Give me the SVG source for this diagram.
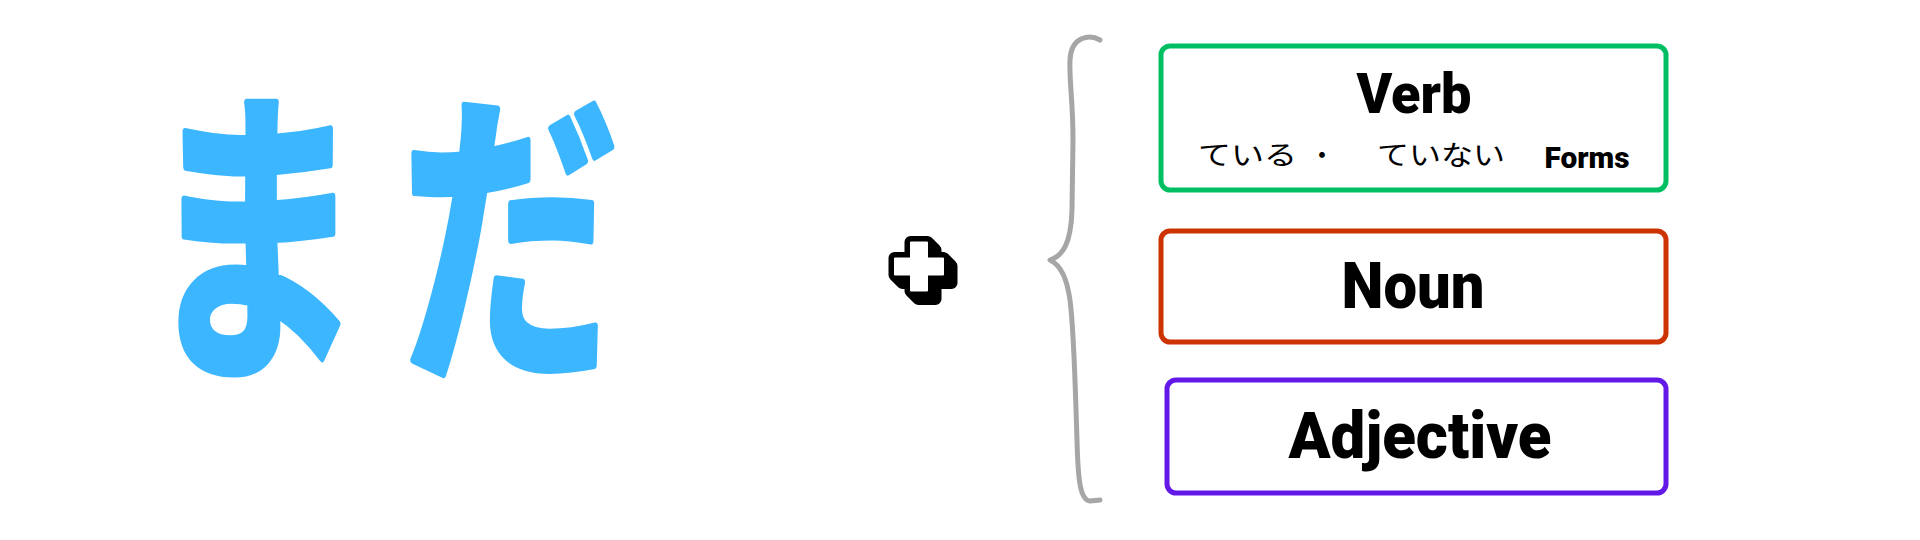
<svg xmlns="http://www.w3.org/2000/svg" width="1920" height="540" viewBox="0 0 1920 540">
<style>
.box{fill:#fff;stroke-width:5}
.lbl{font-family:Roboto,"Liberation Sans",sans-serif;font-weight:900;fill:#000;text-anchor:middle}
.jp{font-family:"Noto Sans CJK JP",sans-serif;font-weight:400;font-size:27px;fill:#000}
.big{font-family:"Noto Sans CJK JP",sans-serif;font-weight:700;font-size:220px;fill:#3BB6FF;stroke:#3BB6FF;stroke-width:5;stroke-linejoin:round}
</style>
<defs>
<path id="plus" d="M910.5,242 h17 v16 h16 v17 h-16 v16 h-17 v-16 h-16 v-17 h16 z"/>
</defs>
<rect width="1920" height="540" fill="#fff"/>
<g id="mada">
<text class="big" transform="translate(145,355) scale(1,1.42)" x="0" y="0">ま</text>
<text class="big" transform="translate(400,355) scale(1,1.42)" x="0" y="0">だ</text>
</g>
<g id="plus-sign">
<g fill="#000" stroke="#000" stroke-width="12" stroke-linejoin="round">
<use href="#plus"/>
<use href="#plus" transform="translate(1,1)"/>
<use href="#plus" transform="translate(2,2)"/>
<use href="#plus" transform="translate(3,3)"/>
<use href="#plus" transform="translate(4,4)"/>
<use href="#plus" transform="translate(5,5)"/>
<use href="#plus" transform="translate(6,6)"/>
<use href="#plus" transform="translate(7,7)"/>
<use href="#plus" transform="translate(8,8)"/>
</g>
<use href="#plus" fill="#fff" stroke="#fff" stroke-width="1" stroke-linejoin="round"/>
</g>
<g id="connectors">
<path d="M1100,40 C1090,34 1071,36 1070,60 C1069,80 1073,100 1073,140 L1072,210 C1071,245 1062,256 1050,260 C1062,266 1067,280 1070,300 C1074,330 1075,380 1077,440 C1078,480 1080,500 1090,501 L1100,500" fill="none" stroke="#A6A6A6" stroke-width="5" stroke-linecap="round" stroke-linejoin="round"/>
</g>
<g id="verb">
<rect class="box" x="1161" y="46" width="505" height="144" rx="9" stroke="#00BF63"/>
<text class="lbl" x="1414" y="113" font-size="56" textLength="115" lengthAdjust="spacingAndGlyphs">Verb</text>
<text class="jp" x="1198" y="165" textLength="99" lengthAdjust="spacingAndGlyphs">ている</text>
<text class="jp" x="1322" y="165" text-anchor="middle">・</text>
<text class="jp" x="1377" y="165" textLength="128" lengthAdjust="spacingAndGlyphs">ていない</text>
<text class="lbl" x="1587" y="168" font-size="30" textLength="85" lengthAdjust="spacingAndGlyphs">Forms</text>
</g>
<g id="noun">
<rect class="box" x="1161" y="231" width="505" height="111" rx="9" stroke="#CC3300"/>
<text class="lbl" x="1413" y="308" font-size="64" textLength="143" lengthAdjust="spacingAndGlyphs">Noun</text>
</g>
<g id="adjective">
<rect class="box" x="1167" y="380" width="499" height="113" rx="9" stroke="#6219E8"/>
<text class="lbl" x="1420" y="458" font-size="64" textLength="263" lengthAdjust="spacingAndGlyphs">Adjective</text>
</g>
</svg>
